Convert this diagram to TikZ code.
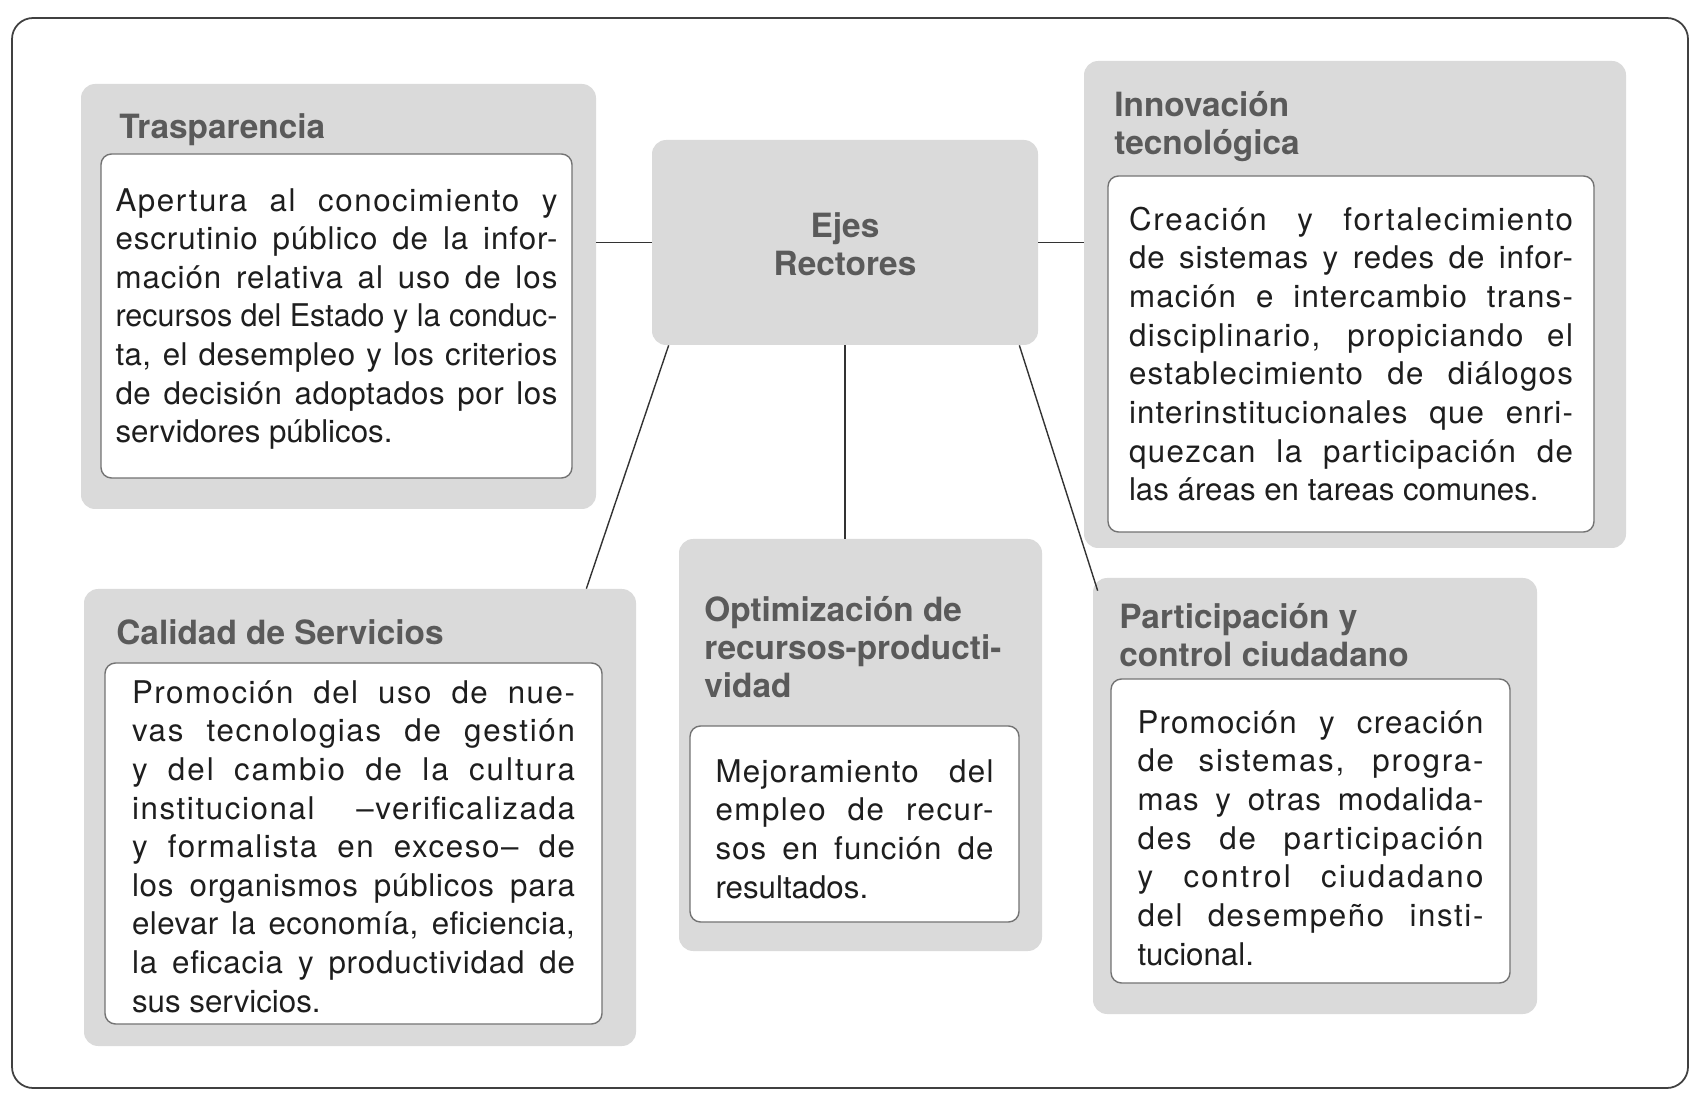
\documentclass[tikz,border=0pt]{standalone}
\usepackage{fontspec}
\setmainfont{TeX Gyre Heros}
\usepackage{tikz}
\usetikzlibrary{fit,calc}

\definecolor{PanelGray}{HTML}{DADADA}
\definecolor{TitleGray}{HTML}{5A5A5A}
\definecolor{InkGray}{HTML}{1E1E1E}

% one full justified line: short lines get tracking, long ones get squeezed
\newsavebox{\linebox}
\newcommand{\spread}[1]{%
	\sbox{\linebox}{\spaceskip=0pt\xspaceskip=0pt #1}%
	\ifdim\wd\linebox>\hsize
		\pgfmathsetmacro{\squeeze}{\hsize/\wd\linebox}%
		\scalebox{\squeeze}[1]{\usebox{\linebox}}%
	\else
		\pgfmathsetmacro{\track}{26*(\hsize-\wd\linebox)/\wd\linebox}%
		\makebox[\hsize][s]{\addfontfeatures{LetterSpace=\track}\spaceskip=0pt\xspaceskip=0pt #1}%
	\fi\\}

\tikzset{
	panel/.style={fill=PanelGray, rounded corners=8pt, inner sep=0pt},
	card/.style={draw=black!55, line width=0.8pt, fill=white, rounded corners=6pt, inner sep=0pt},
	heading/.style={font=\fontsize{19}{21.5}\selectfont\bfseries, text=TitleGray, align=left, inner sep=0pt, anchor=north west},
	body/.style={font=\fontsize{17.8}{22}\selectfont, text=InkGray, align=justify, inner sep=0pt},
	link/.style={draw=black!80, line width=0.8pt},
	frame/.style={draw=black!75, line width=1pt, rounded corners=12pt},
}

\begin{document}
\begin{tikzpicture}[x=0.02cm, y=-0.02cm]
	\path (0,0) to (1691,1094);

	\draw[frame] (12,18) rectangle (1688,1088);

	\node[panel, fit={(81,84) (596,509)}] (traspBg) {};
	\node[panel, fit={(652,140) (1038,345)}] (ejes) {};
	\node[panel, fit={(1084,61) (1626,548)}] (innovBg) {};
	\node[panel, fit={(84,589) (636,1046)}] (calidadBg) {};
	\node[panel, fit={(679,539) (1042,951)}] (optimBg) {};
	\node[panel, fit={(1093,578) (1537,1014)}] (partBg) {};

	\node[card, fit={(101,154) (572,478)}] (traspCard) {};
	\node[card, fit={(1108,176) (1594,532)}] (innovCard) {};
	\node[card, fit={(105,663) (602,1024)}] (calidadCard) {};
	\node[card, fit={(690,726) (1019,922)}] (optimCard) {};
	\node[card, fit={(1111,679) (1510,983)}] (partCard) {};

	\node[heading, anchor=center, align=center] (ejesTit) at ($(ejes)+(0,2)$) {Ejes\\Rectores};
	\node[heading] (traspTit) at (119,113) {Trasparencia};
	\node[heading] (innovTit) at (1114,91) {Innovación\\tecnológica};
	\node[heading] (calidadTit) at (116,619) {Calidad de Servicios};
	\node[heading] (optimTit) at (704,596) {Optimización de\\recursos-producti-\\vidad};
	\node[heading] (partTit) at (1119,603) {Participación y\\control ciudadano};

	\node[body, text width=8.84cm] (traspTxt) at ($(traspCard)+(0,3)$) {\spread{Apertura al conocimiento y}\spread{escrutinio público de la infor-}\spread{mación relativa al uso de los}\spread{recursos del Estado y la conduc-}\spread{ta, el desempleo y los criterios}\spread{de decisión adoptados por los}servidores públicos.};
	\node[body, text width=8.88cm] (innovTxt) at (innovCard) {\spread{Creación y fortalecimiento}\spread{de sistemas y redes de infor-}\spread{mación e intercambio trans-}\spread{disciplinario, propiciando el}\spread{establecimiento de diálogos}\spread{interinstitucionales que enri-}\spread{quezcan la participación de}las áreas en tareas comunes.};
	\node[body, text width=8.86cm] (calidadTxt) at ($(calidadCard)+(0,3)$) {\spread{Promoción del uso de nue-}\spread{vas tecnologias de gestión}\spread{y del cambio de la cultura}\spread{institucional –verificalizada}\spread{y formalista en exceso– de}\spread{los organismos públicos para}\spread{elevar la economía, eficiencia,}\spread{la eficacia y productividad de}sus servicios.};
	\node[body, text width=5.56cm] (optimTxt) at ($(optimCard)+(0,5)$) {\spread{Mejoramiento del}\spread{empleo de recur-}\spread{sos en función de}resultados.};
	\node[body, text width=6.92cm] (partTxt) at ($(partCard)+(0,7)$) {\spread{Promoción y creación}\spread{de sistemas, progra-}\spread{mas y otras modalida-}\spread{des de participación}\spread{y control ciudadano}\spread{del desempeño insti-}tucional.};

	\draw[link] (ejes.west) -- (ejes.west -| traspBg.east);
	\draw[link] (ejes.east) -- (ejes.east -| innovBg.west);
	\draw[link] ($(ejes.south west)+(17,0)$) -- ($(calidadBg.north east)+(-50,0)$);
	\draw[link] (ejes.south) -- (ejes.south |- optimBg.north);
	\draw[link] ($(ejes.south east)+(-19,0)$) -- ($(partBg.north west)+(5,13)$);
\end{tikzpicture}
\end{document}
